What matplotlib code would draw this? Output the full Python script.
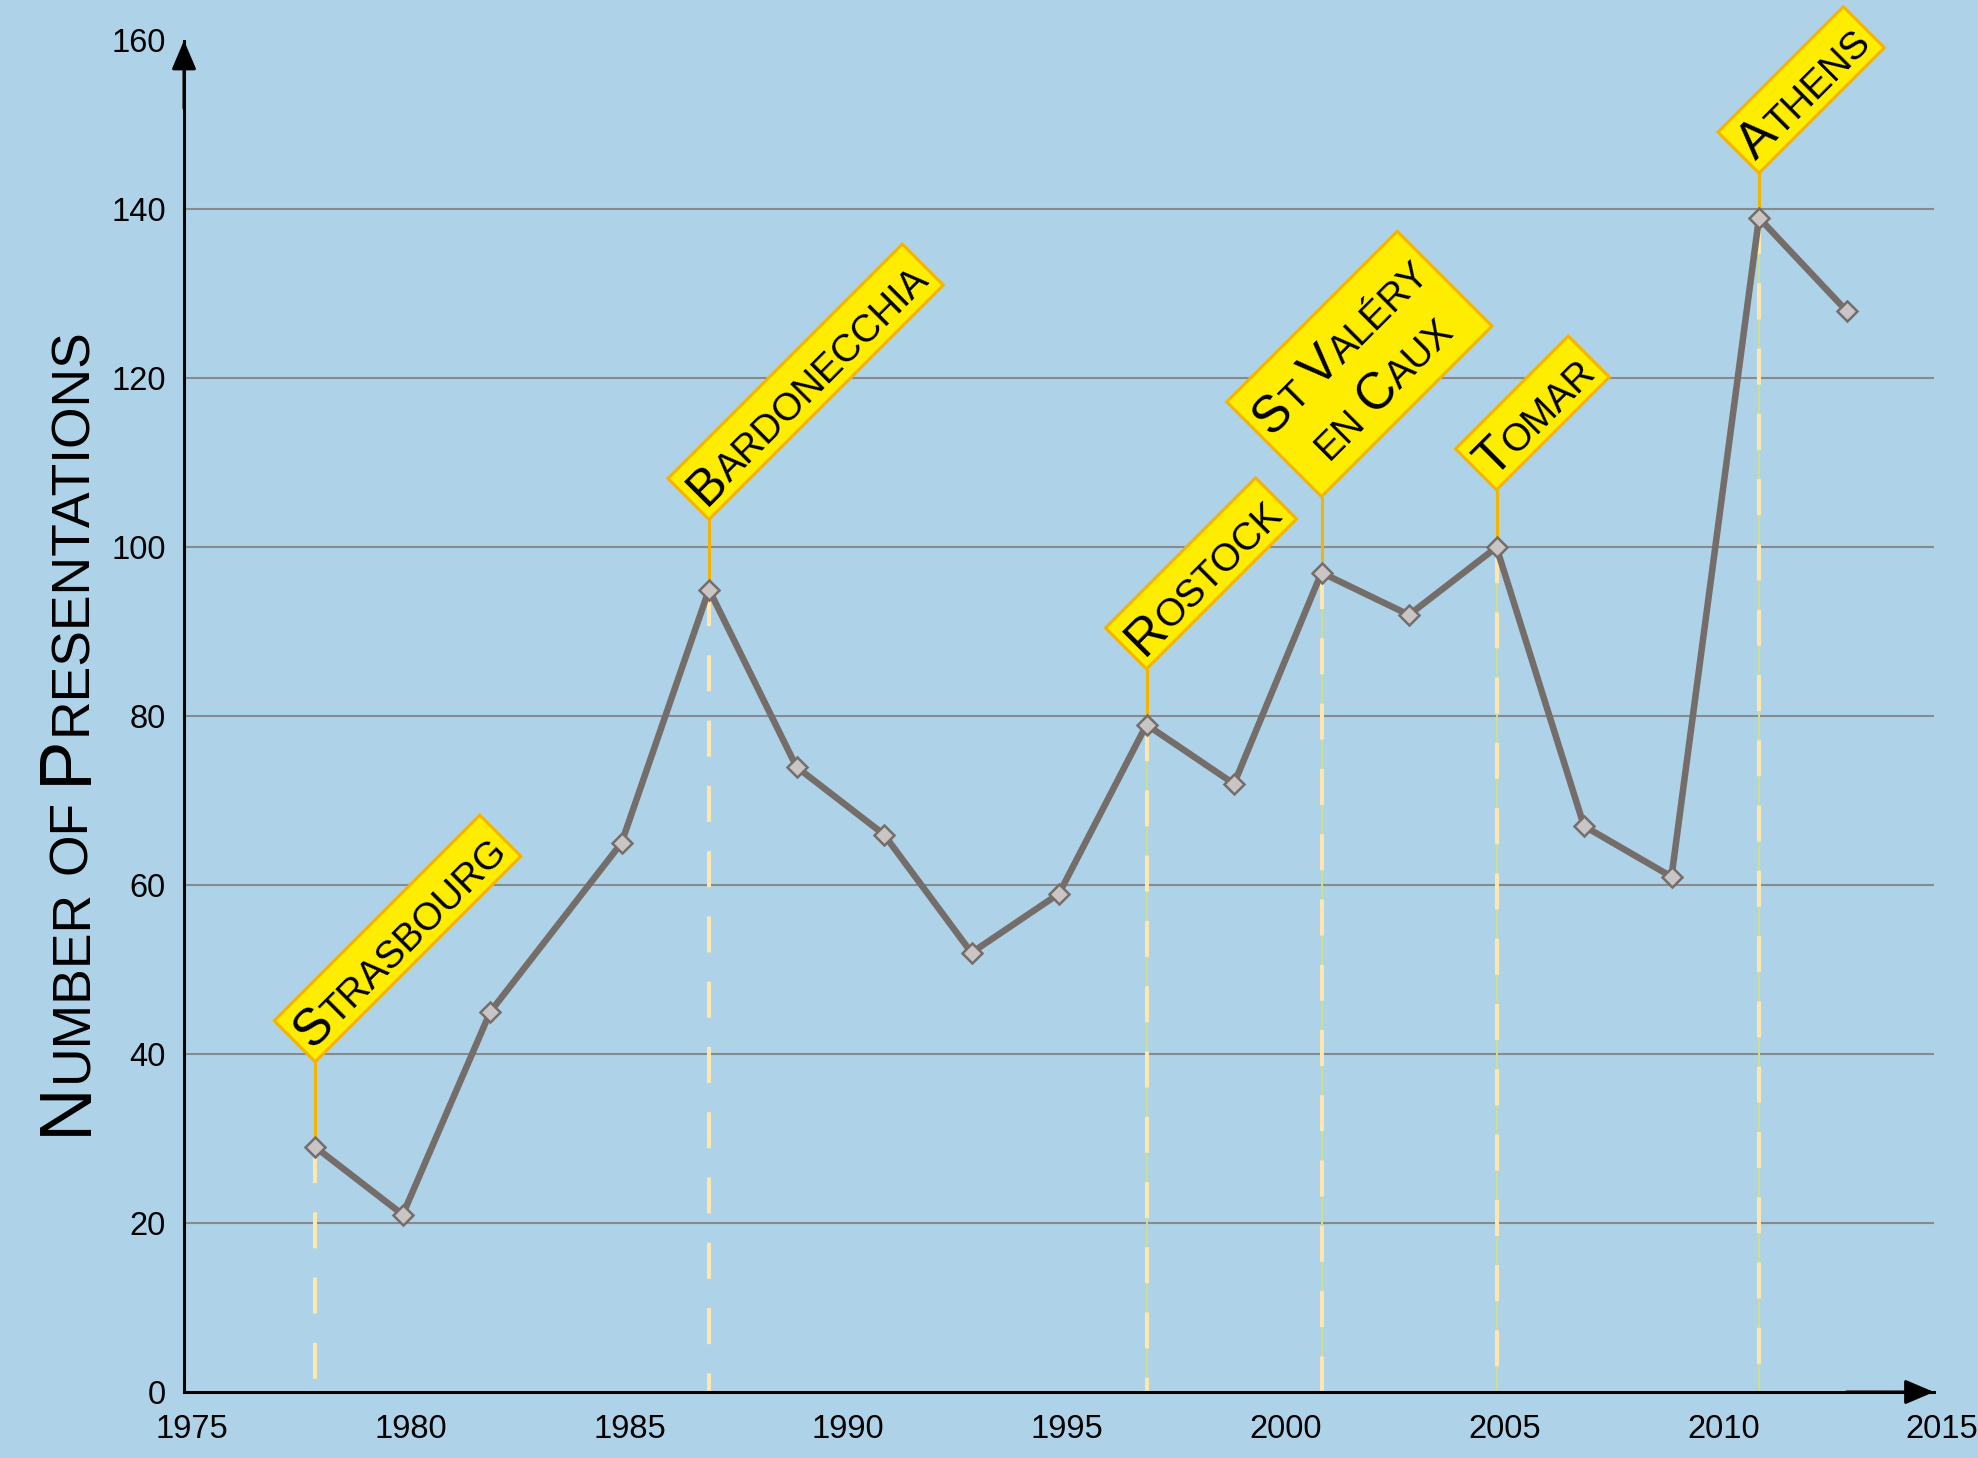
import numpy as np
import matplotlib
matplotlib.use('Agg')
import matplotlib.pyplot as plt
from matplotlib import font_manager
from matplotlib.font_manager import FontProperties
from matplotlib.ft2font import FT2Font
from matplotlib.patches import Polygon
from matplotlib.transforms import ScaledTranslation

# data
years = [1978, 1980, 1982, 1985, 1987, 1989, 1991, 1993, 1995,
         1997, 1999, 2001, 2003, 2005, 2007, 2009, 2011, 2013]
counts = [29, 21, 45, 65, 95, 74, 66, 52, 59,
          79, 72, 97, 92, 100, 67, 61, 139, 128]
venue_years = [1978, 1987, 1997, 2001, 2005, 2011]
venue_names = ['Strasbourg', 'Bardonecchia', 'Rostock', 'St Valéry\nen Caux', 'Tomar', 'Athens']
xticks = [1975, 1980, 1985, 1990, 1995, 2000, 2005, 2010, 2015]
yticks = [0, 20, 40, 60, 80, 100, 120, 140, 160]

# layout: y value of each sign's lower corner
sign_tops = [39.1, 103.3, 85.6, 106.0, 106.8, 144.3]

W, H, DPI = 1978, 1458, 100
BG = '#aed3e8'
LINE = '#756d6a'
MFILL = '#c9c5c4'
STEM = '#f5b400'
SIGN = '#ffed00'
DASH = '#fde6b0'
TINT = '#cfe08a'

plt.rcParams['lines.scale_dashes'] = False

def pick_font(names):
    for nm in names:
        try:
            return font_manager.findfont(FontProperties(family=nm), fallback_to_default=False)
        except Exception:
            pass
    return font_manager.findfont(FontProperties(family='DejaVu Sans'))

SANS = pick_font(['Liberation Sans', 'Arial'])
NARROW = pick_font(['Liberation Sans Narrow', 'DejaVu Sans Condensed', 'Liberation Sans'])

_fonts = {}
def adv(path, ch, size):
    key = (path, round(size, 3))
    if key not in _fonts:
        f = FT2Font(path)
        f.set_size(size, DPI)
        _fonts[key] = f
    g = _fonts[key].load_char(ord(ch))
    return g.linearHoriAdvance / 65536.0

def caps_layout(s, big, path, ratio):
    runs = []
    pos = 0.0
    cur, cur_size, cur_start = '', None, 0.0
    for c in s:
        size = big if c.isupper() else big * ratio
        ch = c.upper()
        if ch == ' ':
            if cur:
                runs.append((cur, cur_size, cur_start))
                cur = ''
            pos += adv(path, ' ', size)
            continue
        if cur and size != cur_size:
            runs.append((cur, cur_size, cur_start))
            cur = ''
        if not cur:
            cur_start, cur_size = pos, size
        cur += ch
        pos += adv(path, ch, size)
    if cur:
        runs.append((cur, cur_size, cur_start))
    return runs, pos

def draw_caps(fig, xy, s, big, path, angle, ratio=0.76, zorder=5):
    # xy = centre of the baseline, in pixels
    runs, total = caps_layout(s, big, path, ratio)
    a = np.radians(angle)
    u = np.array([np.cos(a), np.sin(a)])
    fp = FontProperties(fname=path)
    for txt, size, off in runs:
        p = np.asarray(xy) + (off - total / 2) * u
        fig.text(p[0] / W, p[1] / H, txt, fontproperties=fp, fontsize=size,
                 rotation=angle, rotation_mode='anchor', ha='left', va='baseline',
                 color='black', zorder=zorder)
    return total

fig = plt.figure(figsize=(W / DPI, H / DPI), dpi=DPI, facecolor=BG)
ax = fig.add_axes([184 / W, 66 / H, (1934 - 184) / W, (1392 - 40.5) / H])
ax.set_facecolor(BG)
ax.set_xlim(1975, 2015)
ax.set_ylim(0, 160)

for s in ['top', 'right']:
    ax.spines[s].set_visible(False)
for s in ['left', 'bottom']:
    ax.spines[s].set_linewidth(2.2)
    ax.spines[s].set_color('black')

ax.set_xticks(xticks)
ax.set_yticks(yticks)
ax.tick_params(length=0, labelsize=23.5)
ax.tick_params(axis='y', pad=13)
ax.tick_params(axis='x', pad=16)
for lbl in ax.get_xticklabels():
    lbl.set_fontproperties(FontProperties(fname=SANS, size=23.5))
    lbl.set_transform(lbl.get_transform() + ScaledTranslation(8 / DPI, 0, fig.dpi_scale_trans))
for lbl in ax.get_yticklabels():
    lbl.set_fontproperties(FontProperties(fname=SANS, size=23.5))

ax.hlines(yticks[1:-1], 1975, 2015, color='#878b8e', lw=1.5, zorder=1)

# axis arrows
arr = dict(arrowstyle='-|>,head_length=0.8,head_width=0.34', color='black', lw=2.2,
           shrinkA=0, shrinkB=0, mutation_scale=22)
ax.annotate('', xy=(1, 0), xytext=(0.95, 0), xycoords='axes fraction', arrowprops=arr)
ax.annotate('', xy=(0, 1), xytext=(0, 0.95), xycoords='axes fraction', arrowprops=arr)

# guide lines under the venues
for i, yr in enumerate(venue_years):
    v = counts[years.index(yr)]
    if yr >= 1997:
        ax.plot([yr, yr], [v, 0], color=TINT, lw=1.4, zorder=2)
    ax.plot([yr, yr], [v, 0], color=DASH, lw=2.9, dashes=(26, 21), zorder=2.1)

ax.plot(years, counts, color=LINE, lw=4.7, zorder=4,
        marker='D', markersize=10.5, markerfacecolor=MFILL,
        markeredgecolor=LINE, markeredgewidth=1.8)

# venue signs
F_PT = 36.5
F_PX = F_PT * DPI / 72
PAD = 6.5
PITCH = 58
ang = 45
u = np.array([np.cos(np.radians(ang)), np.sin(np.radians(ang))])
n = np.array([-np.sin(np.radians(ang)), np.cos(np.radians(ang))])
for yr, name, top in zip(venue_years, venue_names, sign_tops):
    v = counts[years.index(yr)]
    ax.plot([yr, yr], [v, top], color=STEM, lw=2.2, zorder=3, solid_capstyle='butt')
    P = ax.transData.transform((yr, top))
    lines = name.split('\n')
    widths = [caps_layout(l, F_PT, SANS, 0.76)[1] for l in lines]
    L = max(widths) + 2 * PAD
    Hb = 58 if len(lines) == 1 else 134
    corners = np.array([P, P + L * u, P + L * u + Hb * n, P + Hb * n])
    poly = Polygon(corners / [W, H], closed=True, transform=fig.transFigure,
                   facecolor=SIGN, edgecolor=STEM, lw=2.2, zorder=4)
    fig.add_artist(poly)
    cap = 0.716 * F_PX
    k = len(lines)
    for i, line in enumerate(lines):
        c_off = Hb / 2 + (k - 1) / 2 * PITCH - i * PITCH
        base = P + (L / 2) * u + (c_off - cap / 2) * n
        draw_caps(fig, base, line, F_PT, SANS, ang, zorder=5)

# y axis title in small caps
draw_caps(fig, (86, 731), 'Number of Presentations', 53.5, NARROW, 90, ratio=0.72)

fig.savefig('out.png', dpi=DPI, facecolor=BG)
